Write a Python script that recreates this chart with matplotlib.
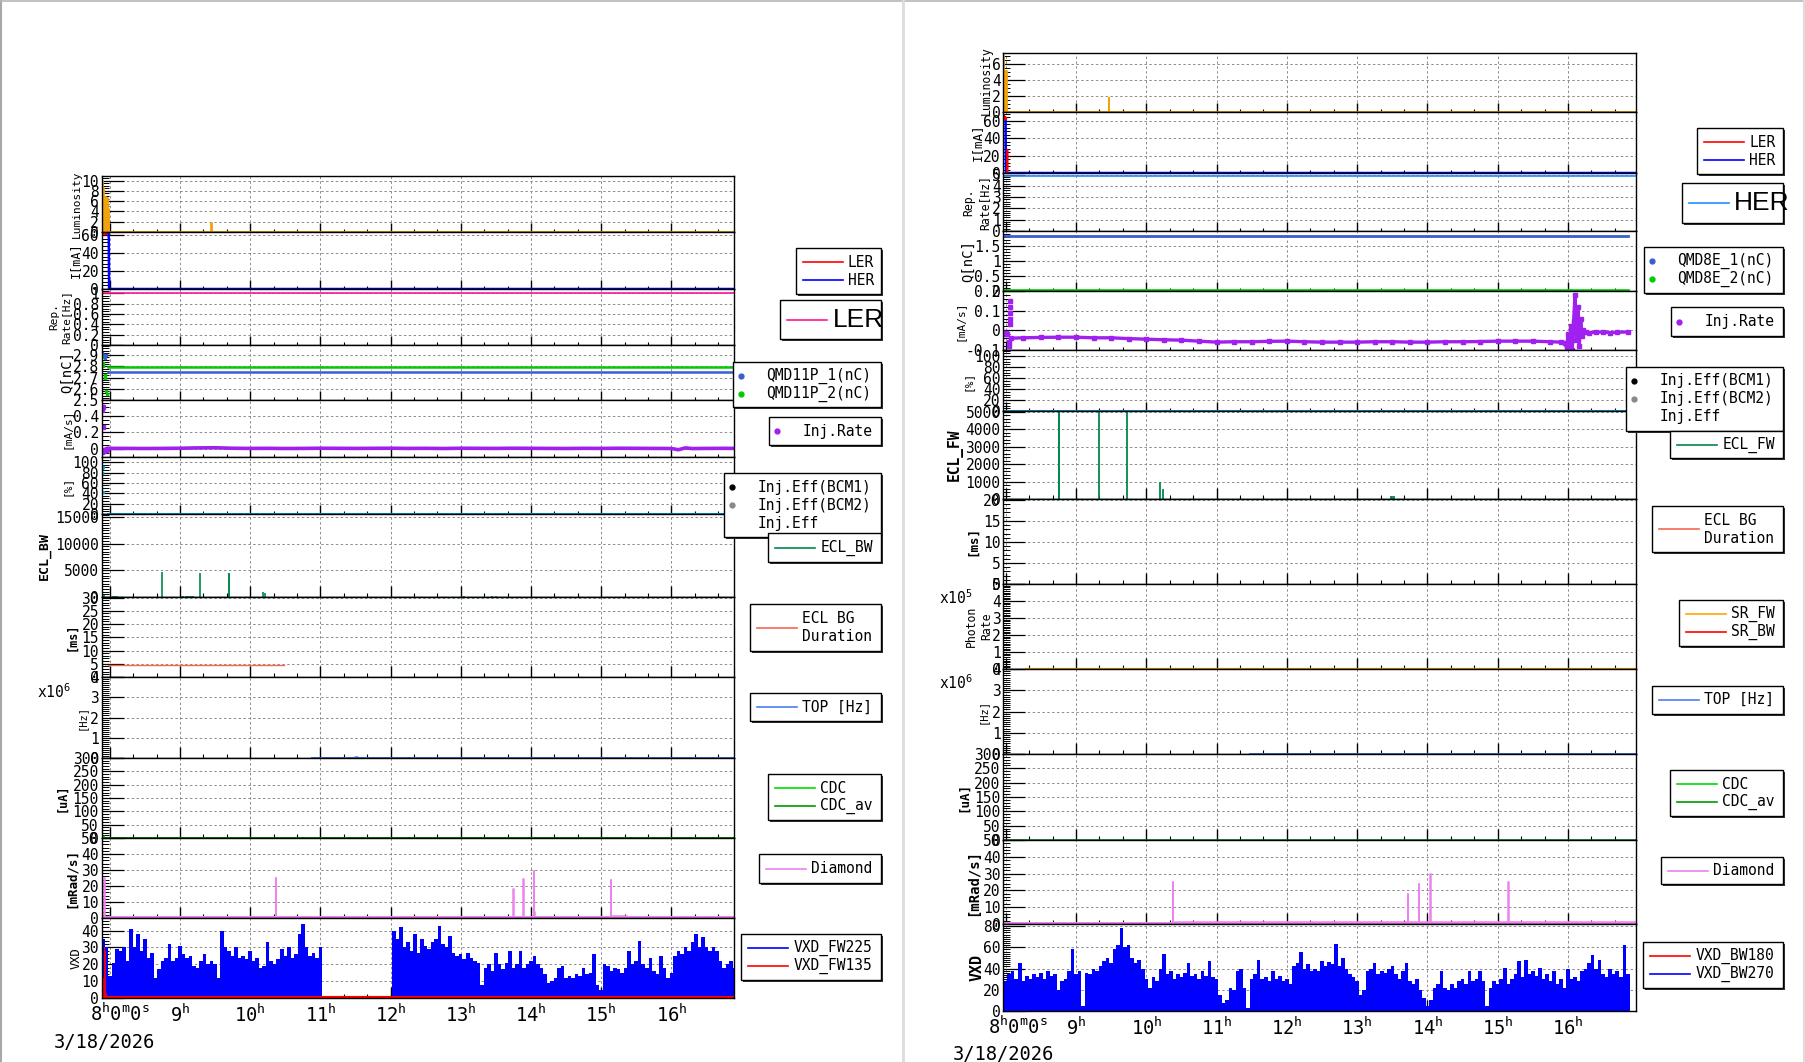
import numpy as np
import matplotlib
matplotlib.use("Agg")
import matplotlib.pyplot as plt
from matplotlib.ticker import AutoMinorLocator, MultipleLocator, FuncFormatter
from matplotlib.patches import Rectangle

W, H = 1806, 1062
PX = 100.0 / 72.0

plt.rcParams['font.family'] = ['DejaVu Sans Mono']
plt.rcParams['mathtext.fontset'] = 'custom'
plt.rcParams['mathtext.rm'] = 'DejaVu Sans Mono'
plt.rcParams['mathtext.it'] = 'DejaVu Sans Mono'
plt.rcParams['mathtext.bf'] = 'DejaVu Sans Mono:bold'

# ======================= DATA =======================
hour_ticks = [8, 9, 10, 11, 12, 13, 14, 15, 16]
first_label = r'$\mathrm{8^{h}0^{m}0^{s}}$'
hour_labels = [r'$\mathrm{9^{h}}$', r'$\mathrm{10^{h}}$', r'$\mathrm{11^{h}}$', r'$\mathrm{12^{h}}$',
               r'$\mathrm{13^{h}}$', r'$\mathrm{14^{h}}$', r'$\mathrm{15^{h}}$', r'$\mathrm{16^{h}}$']
date_text = '3/18/2026'

# ---------- LER (left canvas) ----------
L_xlim = (7.885, 16.893)
lumL_t = [7.885, 7.90, 7.915, 7.93, 7.945, 7.96, 7.975, 7.99, 9.448, 9.452, 16.893]
lumL_v = [10.0, 8.6, 6.5, 6.8, 4.6, 6.6, 4.4, 0.0, 1.8, 0.0, 0.0]
herIL_t = [7.885, 7.985, 7.99, 16.893]
herIL_v = [62, 62, 0, 0]
lerIL_t = [7.887, 7.897, 7.907, 7.917, 7.927, 7.937]
lerIL_v = [63, 62.5, 63, 62.8, 63, 62.6]
repL_t = [7.885, 16.893]
repL_v = [1.0, 1.0]
q1L_pts_t = [7.890, 7.900, 7.915, 7.930, 7.950]
q1L_pts_v = [2.92, 2.89, 2.90, 2.87, 2.90]
q2L_pts_t = [7.890, 7.900, 7.910, 7.925, 7.935, 7.945, 7.955]
q2L_pts_v = [2.88, 2.83, 2.80, 2.72, 2.70, 2.58, 2.55]
q1L_t = [7.97, 16.893]
q1L_v = [2.746, 2.746]
q2L_t = [7.97, 16.893]
q2L_v = [2.795, 2.795]
injL_pts_t = [7.886, 7.890, 7.894, 7.898, 7.902, 7.888, 7.893, 7.905, 7.915, 7.93, 7.95, 7.965]
injL_pts_v = [0.50, 0.51, 0.47, 0.50, 0.26, -0.03, -0.04, -0.02, -0.03, -0.02, -0.01, 0.0]
injL_t = [7.98, 8.25, 8.5, 8.75, 9.0, 9.25, 9.5, 9.75, 10.0, 10.25, 10.5, 10.75, 11.0, 11.25,
          11.5, 11.75, 12.0, 12.25, 12.5, 12.75, 13.0, 13.25, 13.5, 13.75, 14.0, 14.25, 14.5,
          14.75, 15.0, 15.25, 15.5, 15.75, 16.0, 16.1, 16.2, 16.3, 16.5, 16.75, 16.893]
injL_v = [0.005, 0.004, 0.003, 0.004, 0.006, 0.010, 0.012, 0.006, 0.004, 0.005, 0.003, 0.004,
          0.006, 0.005, 0.004, 0.005, 0.006, 0.004, 0.005, 0.003, 0.006, 0.005, 0.004, 0.006,
          0.005, 0.004, 0.003, 0.005, 0.004, 0.006, 0.005, 0.004, 0.003, -0.012, 0.010, 0.002,
          0.004, 0.005, 0.004]
effL_pts_t = [7.886, 7.890, 7.894, 7.898, 7.893, 7.900]
effL_pts_v = [90, 91, 89, 90, 80, 42]
effL_t = [7.97, 16.893]
effL_v = [0.5, 0.5]
eclL_t = [7.92, 8.04, 8.07, 8.10, 8.74, 9.03, 9.05, 9.08, 9.11, 9.14, 9.17, 9.19, 9.29,
          9.695, 9.705, 10.19, 10.21, 13.05, 13.45, 13.50]
eclL_v = [300, 250, 200, 150, 4700, 250, 230, 240, 220, 250, 230, 200, 4500,
          4500, 4500, 1000, 800, 120, 150, 120]
eclL_base = 30
durL_t = [7.975, 10.48]
durL_v = [4.7, 4.7]
topL_t = [10.88, 11.49, 11.50, 11.53, 11.54, 16.893]
topL_v = [0, 0, 0.04e6, 0.04e6, 0, 0]
cdcL_t = [7.915, 7.92, 7.925]
cdcL_v = [0, 8, 0]
cdcavL_t = [7.885, 16.893]
cdcavL_v = [0.5, 0.5]
diaL_t = [7.885, 7.92, 7.925, 10.37, 10.375, 13.75, 13.755, 13.89, 13.895, 14.04, 14.045,
          14.05, 14.055, 15.14, 15.145, 15.37, 16.893]
diaL_v = [0.6, 25, 0.6, 25, 0.6, 18, 0.6, 24.5, 0.6, 29.5, 0.6, 4, 0.6, 24, 1.2, 0.6, 0.6]
# VXD_FW225, 3-minute bins starting 7.90 h
vxdL_v = [35, 30,
          13, 21, 29, 28, 30, 22, 41, 30, 38, 28, 35, 24, 27, 12, 17, 22, 24, 32, 22, 24,
          31, 26, 24, 25, 19, 18, 22, 26, 20, 22, 20, 12, 40, 30, 28, 25, 30, 24, 25, 23,
          28, 22, 24, 18, 19, 33, 22, 20, 23, 29, 25, 30, 24, 26, 38, 44, 30, 25, 27, 24,
          30, 0, 0, 0, 0, 0, 0, 0, 0, 0, 0, 0, 0, 0, 0, 0, 0, 0, 0, 0,
          0, 40, 35, 42, 30, 33, 28, 38, 27, 35, 31, 29, 33, 35, 43, 32, 30, 37, 27, 25,
          26, 23, 27, 24, 22, 21, 8, 18, 20, 16, 27, 20, 17, 21, 28, 18, 20, 28, 18, 20,
          22, 25, 20, 18, 14, 9, 10, 12, 18, 19, 12, 13, 12, 14, 13, 18, 14, 15, 26, 8,
          5, 20, 19, 16, 18, 17, 15, 18, 28, 20, 22, 34, 20, 18, 24, 16, 14, 25, 18, 12,
          15, 25, 28, 26, 30, 28, 33, 38, 30, 36, 30, 28, 30, 28, 22, 18, 20, 22, 18]
vxdL_t0, vxd_dt = 7.90, 0.05
vxdRedL_t = [7.885, 7.895, 7.905, 7.915, 7.925, 7.935, 7.945, 7.955, 16.893]
vxdRedL_v = [26, 19, 12, 30, 18, 28, 3, 0, 0]

# ---------- HER (right canvas) ----------
R_xlim = (7.966, 16.967)
lumR_t = [7.966, 7.975, 8.02, 9.468, 9.472, 16.967]
lumR_v = [7.0, 5.2, 0.0, 1.8, 0.0, 0.0]
herIR_t = [7.966, 7.998, 8.003, 16.967]
herIR_v = [63, 63, 0, 0]
lerIR_t = [7.966, 7.975, 7.985]
lerIR_v = [65, 64, 63]
lerIR2_t = [8.022, 8.025, 8.028]
lerIR2_v = [0, 27, 0]
repR_t = [7.966, 16.967]
repR_v = [4.85, 4.85]
q1R_t = [7.966, 16.86]
q1R_v = [1.82, 1.82]
q2R_t = [7.966, 16.86]
q2R_v = [0.015, 0.015]
injR_pts_t = [7.97, 7.98, 7.99, 8.00, 8.01, 8.02, 8.055, 8.057, 8.059, 8.061, 8.063, 8.05, 8.052]
injR_pts_v = [-0.012, -0.015, -0.02, -0.013, -0.018, -0.02, 0.15, 0.12, 0.09, 0.06, 0.03, -0.06, -0.08]
injR_t = [8.07, 8.25, 8.5, 8.75, 9.0, 9.25, 9.5, 9.75, 10.0, 10.25, 10.5, 10.75, 11.0, 11.25,
          11.5, 11.75, 12.0, 12.25, 12.5, 12.75, 13.0, 13.25, 13.5, 13.75, 14.0, 14.25, 14.5,
          14.75, 15.0, 15.25, 15.5, 15.75, 15.9, 15.95, 15.98, 16.0, 16.02, 16.04, 16.06, 16.08,
          16.1, 16.12, 16.14, 16.16, 16.18, 16.2, 16.22, 16.25, 16.3, 16.4, 16.5, 16.6, 16.7, 16.85]
injR_v = [-0.040, -0.038, -0.036, -0.035, -0.035, -0.038, -0.038, -0.042, -0.045, -0.048, -0.050,
          -0.055, -0.060, -0.058, -0.058, -0.056, -0.055, -0.058, -0.060, -0.060, -0.060, -0.058,
          -0.058, -0.060, -0.060, -0.058, -0.058, -0.057, -0.055, -0.055, -0.055, -0.058, -0.060,
          -0.062, -0.09, -0.02, -0.08, 0.02, -0.10, 0.05, 0.18, -0.05, 0.12, -0.08, 0.06, -0.03,
          0.0, -0.01, -0.012, -0.010, -0.008, -0.012, -0.010, -0.008]
effR_t = [7.966, 16.967]
effR_v = [0.5, 0.5]
eclR_t = [8.755, 8.765, 9.33, 9.72, 10.20, 10.24, 13.48, 13.50, 13.52]
eclR_v = [5100, 5100, 5100, 5100, 1000, 600, 180, 200, 180]
eclR_base = 20
srR_t = [8.29, 16.967]
srR_v = [0, 0]
topR_t = [11.47, 16.967]
topR_v = [0, 0]
cdcavR_t = [7.966, 16.967]
cdcavR_v = [0.5, 0.5]
diaR_t = [7.966, 10.38, 10.385, 13.72, 13.725, 13.88, 13.885, 14.04, 14.045, 15.15, 15.155, 16.967]
diaR_v = [0.6, 25, 1.0, 18, 1.0, 24, 1.0, 30, 1.0, 25, 1.0, 1.0]
# VXD_BW270, 3-minute bins starting 7.95 h
vxdR_v = [35,
          28, 35, 38, 30, 45, 28, 33, 30, 35, 32, 36, 30, 38, 33, 35, 20, 28, 30, 38, 58,
          35, 38, 5, 36, 35, 40, 38, 42, 47, 50, 45, 58, 62, 78, 60, 62, 50, 45, 48, 40,
          30, 22, 32, 28, 40, 54, 35, 38, 30, 35, 32, 36, 45, 33, 35, 30, 38, 33, 47, 32,
          30, 15, 8, 10, 22, 20, 38, 40, 22, 3, 30, 35, 48, 30, 32, 28, 38, 30, 33, 28,
          30, 25, 42, 45, 56, 40, 44, 38, 40, 38, 47, 42, 46, 44, 63, 42, 50, 40, 35, 32,
          28, 15, 20, 38, 40, 45, 35, 38, 36, 40, 42, 35, 30, 38, 45, 28, 25, 30, 20, 12,
          5, 10, 22, 25, 38, 22, 20, 25, 22, 28, 30, 25, 38, 28, 30, 38, 28, 5, 22, 28,
          25, 30, 41, 25, 30, 35, 47, 32, 48, 35, 38, 33, 41, 30, 35, 28, 38, 25, 30, 22,
          40, 30, 32, 28, 38, 40, 45, 53, 40, 48, 35, 32, 40, 35, 38, 32, 62, 35]
vxdR_t0 = 7.95

# colours
C_LUM = '#f0a30a'; C_LER = '#ff0000'; C_HER = '#0000ff'
C_REPL = '#ff1493'; C_REPH = '#1e90ff'
C_Q1 = '#3a5fcd'; C_Q2 = '#00cc00'
C_INJ = '#a020f0'; C_EFF = '#00b0f0'
C_ECL = '#00884a'; C_DUR = '#f4674f'; C_TOP = '#4d7cf5'
C_CDC = '#00dd00'; C_CDCAV = '#009900'; C_DIA = '#ee82ee'
C_SRFW = '#ffa500'; C_SRBW = '#ff0000'

# ======================= FIGURE =======================
fig = plt.figure(figsize=(W / 100, H / 100), dpi=100)

def make_axes(x0, x1, ys):
    axs = []
    for i in range(len(ys) - 1):
        axs.append(fig.add_axes([x0 / W, 1 - ys[i + 1] / H, (x1 - x0) / W, (ys[i + 1] - ys[i]) / H]))
    return axs

def fmt_factory(scale):
    def f(v, p):
        v = v / scale
        if abs(v) < 1e-9:
            return '0'
        return '%g' % round(v, 6)
    return FuncFormatter(f)

def setup(ax, xlim, ylim, yticks, nminor, small, scale=1.0):
    ax.set_xlim(xlim); ax.set_ylim(ylim)
    ax.set_xticks(hour_ticks)
    ax.xaxis.set_minor_locator(MultipleLocator(1.0 / 3.0))
    ax.set_yticks(yticks)
    ax.yaxis.set_minor_locator(AutoMinorLocator(nminor))
    ax.yaxis.set_major_formatter(fmt_factory(scale))
    xl = 9 if small else 11
    ax.tick_params(axis='x', which='major', direction='in', length=xl / PX, width=1.0,
                   labelbottom=False, bottom=True, top=False)
    ax.tick_params(axis='x', which='minor', direction='in', length=xl * 0.38 / PX, width=0.8,
                   bottom=True, top=False)
    ax.tick_params(axis='y', which='major', direction='in', length=22 / PX, width=0.9,
                   left=True, right=False, labelsize=10.5, pad=2)
    ax.tick_params(axis='y', which='minor', direction='in', length=7 / PX, width=0.7,
                   left=True, right=False)
    ax.grid(True, which='major', color='#8c8c8c', linestyle=(0, (2.5, 2.5)), linewidth=0.7)
    ax.set_axisbelow(True)
    for s in ax.spines.values():
        s.set_linewidth(1.0)

L_y = [176, 232, 289, 345, 400, 457, 514, 597, 677, 758, 838, 918, 998]
R_y = [53, 112, 173, 231, 291, 350, 411, 499, 584, 669, 754, 840, 924, 1011]
L_x = (101.7, 734)
R_x = (1003.3, 1636)
aL = make_axes(L_x[0], L_x[1], L_y)
aR = make_axes(R_x[0], R_x[1], R_y)

# ---------------- LEFT panels ----------------
ax = aL[0]; setup(ax, L_xlim, (0, 10.9), [0, 2, 4, 6, 8, 10], 4, True)
ax.fill_between(lumL_t, lumL_v, step='post', color=C_LUM, lw=0)
ax.plot(lumL_t, lumL_v, drawstyle='steps-post', color=C_LUM, lw=1.3)

ax = aL[1]; setup(ax, L_xlim, (0, 63.5), [0, 20, 40, 60], 5, True)
ax.plot(herIL_t, herIL_v, color=C_HER, lw=1.8)
ax.plot(lerIL_t, lerIL_v, 's', color=C_LER, ms=2)

ax = aL[2]; setup(ax, L_xlim, (0, 1.08), [0, 0.2, 0.4, 0.6, 0.8, 1.0], 4, True)
ax.plot(repL_t, repL_v, color=C_REPL, lw=1.2)

ax = aL[3]; setup(ax, L_xlim, (2.5, 2.99), [2.5, 2.6, 2.7, 2.8, 2.9], 5, True)
ax.plot(q2L_t, q2L_v, color=C_Q2, lw=1.8)
ax.plot(q1L_t, q1L_v, color=C_Q1, lw=1.8)
ax.plot(q1L_pts_t, q1L_pts_v, 's', color=C_Q1, ms=2)
ax.plot(q2L_pts_t, q2L_pts_v, 's', color=C_Q2, ms=2)

ax = aL[4]; setup(ax, L_xlim, (-0.1, 0.59), [0, 0.2, 0.4], 4, True)
ax.plot(injL_t, injL_v, color=C_INJ, lw=2.6)
ax.plot(injL_pts_t, injL_pts_v, 's', color=C_INJ, ms=2.5)

ax = aL[5]; setup(ax, L_xlim, (0, 110), [0, 20, 40, 60, 80, 100], 4, True)
ax.plot(effL_t, effL_v, color=C_EFF, lw=2.2)
ax.plot(effL_pts_t, effL_pts_v, 's', color=C_EFF, ms=2)

ax = aL[6]; setup(ax, L_xlim, (0, 15600), [0, 5000, 10000, 15000], 10, False)
ax.plot(L_xlim, [eclL_base, eclL_base], color=C_ECL, lw=1.0)
ax.vlines(eclL_t, 0, eclL_v, color=C_ECL, lw=1.2)

ax = aL[7]; setup(ax, L_xlim, (0, 30.2), [0, 5, 10, 15, 20, 25, 30], 5, False)
ax.plot(durL_t, durL_v, color=C_DUR, lw=1.0)

ax = aL[8]; setup(ax, L_xlim, (0, 4.0e6), [0, 1e6, 2e6, 3e6, 4e6], 10, False, scale=1e6)
ax.plot(topL_t, topL_v, color=C_TOP, lw=1.4)

ax = aL[9]; setup(ax, L_xlim, (0, 300), [0, 50, 100, 150, 200, 250, 300], 5, False)
ax.plot(cdcavL_t, cdcavL_v, color=C_CDCAV, lw=1.4)
ax.plot(cdcL_t, cdcL_v, color=C_CDC, lw=1.0)

ax = aL[10]; setup(ax, L_xlim, (0, 50), [0, 10, 20, 30, 40, 50], 5, False)
ax.plot(diaL_t, diaL_v, drawstyle='steps-post', color=C_DIA, lw=1.1)
ax.plot(L_xlim, [0.5, 0.5], color=C_DIA, lw=2.0)

ax = aL[11]; setup(ax, L_xlim, (0, 47.5), [0, 10, 20, 30, 40], 5, False)
tL = vxdL_t0 + vxd_dt * np.arange(len(vxdL_v))
ax.bar(tL, vxdL_v, width=vxd_dt, color=C_HER, lw=0)
ax.fill_between(vxdRedL_t, vxdRedL_v, step='post', color=C_LER, lw=0, alpha=0.9)
ax.plot(L_xlim, [0, 0], color=C_LER, lw=3.0, clip_on=True)

# ---------------- RIGHT panels ----------------
ax = aR[0]; setup(ax, R_xlim, (0, 7.4), [0, 2, 4, 6], 4, True)
ax.fill_between(lumR_t, lumR_v, step='post', color=C_LUM, lw=0)
ax.plot(lumR_t, lumR_v, drawstyle='steps-post', color=C_LUM, lw=1.3)

ax = aR[1]; setup(ax, R_xlim, (0, 70), [0, 20, 40, 60], 5, True)
ax.plot(herIR_t, herIR_v, color=C_HER, lw=1.8)
ax.plot(lerIR_t, lerIR_v, 's', color=C_LER, ms=2)
ax.plot(lerIR2_t, lerIR2_v, color=C_LER, lw=1.2)

ax = aR[2]; setup(ax, R_xlim, (0, 5.15), [0, 1, 2, 3, 4, 5], 5, True)
ax.plot(repR_t, repR_v, color=C_REPH, lw=1.2)

ax = aR[3]; setup(ax, R_xlim, (0, 1.99), [0, 0.5, 1.0, 1.5], 5, True)
ax.plot(q1R_t, q1R_v, color=C_Q1, lw=2.0)
ax.plot(q2R_t, q2R_v, color=C_Q2, lw=2.6)

ax = aR[4]; setup(ax, R_xlim, (-0.1, 0.2), [-0.1, 0, 0.1, 0.2], 5, True)
ax.plot(injR_t, injR_v, color=C_INJ, lw=2.4, marker='s', ms=2.2)
ax.plot(injR_pts_t, injR_pts_v, 's', color=C_INJ, ms=2.2)

ax = aR[5]; setup(ax, R_xlim, (0, 111), [0, 20, 40, 60, 80, 100], 4, True)
ax.plot(effR_t, effR_v, color=C_EFF, lw=2.2)

ax = aR[6]; setup(ax, R_xlim, (0, 5050), [0, 1000, 2000, 3000, 4000, 5000], 5, False)
ax.plot(R_xlim, [eclR_base, eclR_base], color=C_ECL, lw=1.0)
ax.vlines(eclR_t, 0, eclR_v, color=C_ECL, lw=1.3)

ax = aR[7]; setup(ax, R_xlim, (0, 20.2), [0, 5, 10, 15, 20], 5, False)

ax = aR[8]; setup(ax, R_xlim, (0, 5e5), [0, 1e5, 2e5, 3e5, 4e5, 5e5], 10, False, scale=1e5)
ax.plot(srR_t, srR_v, color=C_SRFW, lw=1.6)

ax = aR[9]; setup(ax, R_xlim, (0, 4.0e6), [0, 1e6, 2e6, 3e6, 4e6], 10, False, scale=1e6)
ax.plot(topR_t, topR_v, color=C_TOP, lw=1.4)

ax = aR[10]; setup(ax, R_xlim, (0, 300), [0, 50, 100, 150, 200, 250, 300], 5, False)
ax.plot(cdcavR_t, cdcavR_v, color=C_CDCAV, lw=1.8)

ax = aR[11]; setup(ax, R_xlim, (0, 50), [0, 10, 20, 30, 40, 50], 5, False)
ax.plot(diaR_t, diaR_v, drawstyle='steps-post', color=C_DIA, lw=1.1)
ax.plot(R_xlim, [0.6, 0.6], color=C_DIA, lw=2.0)

ax = aR[12]; setup(ax, R_xlim, (0, 82), [0, 20, 40, 60, 80], 10, False)
tR = vxdR_t0 + vxd_dt * np.arange(len(vxdR_v))
ax.bar(tR, vxdR_v, width=vxd_dt, color=C_HER, lw=0)

# x tick labels on bottom panels
for axb in (aL[-1], aR[-1]):
    axb.set_xticks(hour_ticks)
    axb.set_xticklabels([''] + hour_labels)
    axb.tick_params(axis='x', which='major', labelbottom=True, labelsize=13.5, pad=4)

# ======================= OVERLAY (labels, legends) =======================
ov = fig.add_axes([0, 0, 1, 1], zorder=10)
ov.set_xlim(0, W); ov.set_ylim(H, 0)
ov.set_autoscale_on(False)
ov.axis('off')
ov.patch.set_visible(False)

# canvas frames
ov.plot([1, 1], [0, H], color='#a8a8a8', lw=1.5)
ov.plot([0, W], [0.7, 0.7], color='#b8b8b8', lw=1.2)
ov.plot([903, 903], [0, H], color='#dcdcdc', lw=2.0)
ov.plot([1804, 1804], [0, H], color='#dcdcdc', lw=1.5)

def ylab(x, yc, text, size, weight='normal', ls=1.2):
    ov.text(x, yc, text, rotation=90, ha='center', va='center', rotation_mode='anchor',
            fontsize=size, fontweight=weight, multialignment='center', linespacing=ls)

def mid(ys, i):
    return 0.5 * (ys[i] + ys[i + 1])

# left y labels
ylab(77, mid(L_y, 0), 'Luminosity', 8)
ylab(75, mid(L_y, 1), 'I[mA]', 8.5)
ylab(60, mid(L_y, 2), 'Rep.\nRate[Hz]', 8, ls=1.25)
ylab(67, mid(L_y, 3), 'Q[nC]', 10)
ylab(67, mid(L_y, 4), '[mA/s]', 8)
ylab(67, mid(L_y, 5), '[%]', 8)
ylab(44, mid(L_y, 6), 'ECL_BW', 9.5, 'bold')
ylab(72, mid(L_y, 7), '[ms]', 8.5, 'bold')
ylab(82, mid(L_y, 8), '[Hz]', 7.5)
ylab(62, mid(L_y, 9), '[uA]', 8.5, 'bold')
ylab(71, mid(L_y, 10), '[mRad/s]', 9, 'bold')
ylab(76, mid(L_y, 11), 'VXD', 8.7)
# right y labels
ylab(986, mid(R_y, 0) - 2, 'Luminosity', 8.3)
ylab(977, mid(R_y, 1), 'I[mA]', 9)
ylab(977, mid(R_y, 2), 'Rep.\nRate[Hz]', 8.3, ls=1.3)
ylab(968, mid(R_y, 3), 'Q[nC]', 10)
ylab(960, mid(R_y, 4), '[mA/s]', 8)
ylab(968, mid(R_y, 5), '[%]', 8)
ylab(955, mid(R_y, 6), 'ECL_FW', 10.5, 'bold')
ylab(973, mid(R_y, 7), '[ms]', 9, 'bold')
ylab(979, mid(R_y, 8), 'Photon\nRate', 8.3, ls=1.3)
ylab(983, mid(R_y, 9), '[Hz]', 7.5)
ylab(964, mid(R_y, 10), '[uA]', 9, 'bold')
ylab(973, mid(R_y, 11), '[mRad/s]', 10, 'bold')
ylab(977, mid(R_y, 12), 'VXD', 10.8, 'bold')

# exponent labels
ov.text(37, 692, r'x10$^{6}$', ha='left', va='center', fontsize=10.5)
ov.text(939, 598, r'x10$^{5}$', ha='left', va='center', fontsize=10.5)
ov.text(939, 683, r'x10$^{6}$', ha='left', va='center', fontsize=10.5)

# first time labels and dates
ov.text(90, L_y[-1] + 5, first_label, ha='left', va='top', fontsize=13.5)
ov.text(988, R_y[-1] + 5, first_label, ha='left', va='top', fontsize=13.5)
ov.text(54, 1042, date_text, ha='left', va='center', fontsize=13.5)
ov.text(953, 1054, date_text, ha='left', va='center', fontsize=13.5)

def legend_box(x0, y0, x1, y1, entries, txt_off, fs=10.5):
    ov.add_patch(Rectangle((x0 + 2, y0 + 2), x1 - x0, y1 - y0, facecolor='#333333',
                           edgecolor='none', zorder=1))
    ov.add_patch(Rectangle((x0, y0), x1 - x0, y1 - y0, facecolor='white',
                           edgecolor='black', linewidth=1.0, zorder=2))
    n = len(entries)
    yc = 0.5 * (y0 + y1)
    for i, (kind, color, label) in enumerate(entries):
        y = yc + (i - (n - 1) / 2.0) * 18
        if kind == 'line':
            ov.plot([x0 + 7, x0 + 47], [y, y], color=color, lw=1.2, zorder=3)
        elif kind == 'dot':
            ov.plot([x0 + 8], [y], 'o', color=color, ms=3.5, zorder=3)
        ov.text(x0 + txt_off, y, label, ha='left', va='center', fontsize=fs, zorder=3,
                linespacing=1.23)

def big_box(x0, y0, x1, y1, color, label, line_x0, text_x):
    ov.add_patch(Rectangle((x0 + 2, y0 + 2), x1 - x0, y1 - y0, facecolor='#333333',
                           edgecolor='none', zorder=1))
    ov.add_patch(Rectangle((x0, y0), x1 - x0, y1 - y0, facecolor='white',
                           edgecolor='black', linewidth=1.0, zorder=2))
    yc = 0.5 * (y0 + y1)
    ov.plot([line_x0, line_x0 + 40], [yc, yc], color=color, lw=1.2, zorder=3)
    ov.text(text_x, yc, label, ha='left', va='center', fontsize=19, zorder=3,
            family=['Liberation Sans Narrow', 'Liberation Sans', 'DejaVu Sans'])

# left legends
legend_box(795.7, 248.3, 880.7, 294.3, [('line', C_LER, 'LER'), ('line', C_HER, 'HER')], 52)
big_box(780.3, 300.3, 880.7, 339.3, C_REPL, 'LER', 787, 833)
legend_box(733.3, 361.7, 880.7, 407.3, [('dot', C_Q1, 'QMD11P_1(nC)'), ('dot', C_Q2, 'QMD11P_2(nC)')], 33)
legend_box(769.3, 417.3, 880.7, 445.3, [('dot', C_INJ, 'Inj.Rate')], 33)
legend_box(724.3, 473.3, 880.7, 537.3, [('dot', 'black', 'Inj.Eff(BCM1)'), ('dot', '#888888', 'Inj.Eff(BCM2)'),
                                        ('none', None, 'Inj.Eff')], 33)
legend_box(768.3, 533.3, 880.7, 561.7, [('line', C_ECL, 'ECL_BW')], 52)
legend_box(750.3, 604.3, 880.7, 650.7, [('line', C_DUR, 'ECL BG\nDuration')], 52)
legend_box(750.3, 693.3, 880.7, 721.3, [('line', C_TOP, 'TOP [Hz]')], 52)
legend_box(768.3, 774.3, 880.7, 820.3, [('line', C_CDC, 'CDC'), ('line', C_CDCAV, 'CDC_av')], 52)
legend_box(759.3, 854.3, 880.7, 882.7, [('line', C_DIA, 'Diamond')], 52)
legend_box(741.3, 934.3, 880.7, 980.3, [('line', C_HER, 'VXD_FW225'), ('line', C_LER, 'VXD_FW135')], 52)

# right legends
legend_box(1697.3, 128.3, 1782.7, 174.3, [('line', C_LER, 'LER'), ('line', C_HER, 'HER')], 52)
big_box(1682.3, 183.3, 1782.7, 222.7, C_REPH, 'HER', 1689, 1734.3)
legend_box(1644.3, 247.3, 1782.7, 293.3, [('dot', C_Q1, 'QMD8E_1(nC)'), ('dot', C_Q2, 'QMD8E_2(nC)')], 33)
legend_box(1671.3, 307.3, 1782.7, 335.7, [('dot', C_INJ, 'Inj.Rate')], 33)
legend_box(1626.3, 366.7, 1782.7, 430.7, [('dot', 'black', 'Inj.Eff(BCM1)'), ('dot', '#888888', 'Inj.Eff(BCM2)'),
                                          ('none', None, 'Inj.Eff')], 33)
legend_box(1670.3, 430.7, 1782.7, 458.3, [('line', C_ECL, 'ECL_FW')], 52)
legend_box(1652.3, 506.3, 1782.7, 552.3, [('line', C_DUR, 'ECL BG\nDuration')], 52)
legend_box(1679.3, 600.3, 1782.7, 646.3, [('line', C_SRFW, 'SR_FW'), ('line', C_SRBW, 'SR_BW')], 52)
legend_box(1652.3, 685.7, 1782.7, 713.7, [('line', C_TOP, 'TOP [Hz]')], 52)
legend_box(1670.3, 770.3, 1782.7, 816.3, [('line', C_CDC, 'CDC'), ('line', C_CDCAV, 'CDC_av')], 52)
legend_box(1661.3, 856.7, 1782.7, 884.3, [('line', C_DIA, 'Diamond')], 52)
legend_box(1643.3, 941.7, 1782.7, 987.7, [('line', C_LER, 'VXD_BW180'), ('line', C_HER, 'VXD_BW270')], 52)

fig.savefig('out.png', dpi=100)
